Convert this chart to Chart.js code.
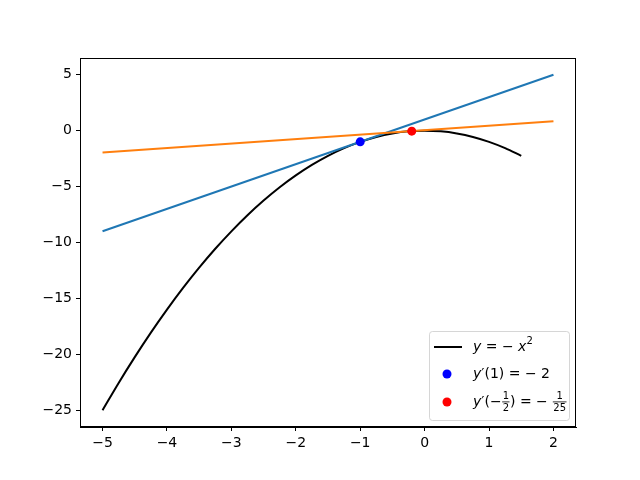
<!DOCTYPE html>
<html>
<head>
<meta charset="utf-8">
<script src="https://cdn.jsdelivr.net/npm/chart.js@4/dist/chart.umd.min.js"></script>
<style>
  body { margin: 0; background: #fff; }
  #wrap { width: 640px; height: 480px; }
</style>
</head>
<body>
<div id="wrap"><canvas id="lineChart" width="640" height="480"></canvas></div>
<script>
// curve y = -x^2
var curveX = [-5, -4.75, -4.5, -4.25, -4, -3.75, -3.5, -3.25, -3, -2.75, -2.5, -2.25, -2, -1.75, -1.5, -1.25, -1, -0.75, -0.5, -0.25, 0, 0.25, 0.5, 0.75, 1, 1.25, 1.5];
var curveY = [-25, -22.56, -20.25, -18.06, -16, -14.06, -12.25, -10.56, -9, -7.56, -6.25, -5.06, -4, -3.06, -2.25, -1.56, -1, -0.56, -0.25, -0.06, 0, -0.06, -0.25, -0.56, -1, -1.56, -2.25];
// tangent lines (end points)
var blueLineX = [-5, 2];
var blueLineY = [-9, 5];
var orangeLineX = [-5, 2];
var orangeLineY = [-1.96, 0.84];
// marked points
var bluePoint = [-1, -1];
var redPoint = [-0.2, -0.04];
var xTicks = [-5, -4, -3, -2, -1, 0, 1, 2];
var yTicks = [-25, -20, -15, -10, -5, 0, 5];

function pts(xs, ys) {
    return xs.map(function (x, i) { return { x: x, y: ys[i] }; });
}
function fmt(v) {
    return v < 0 ? '\u2212' + Math.abs(v) : String(v);
}

var FONT = "'DejaVu Sans', sans-serif";

// draws a run of text pieces; each piece: [text, italic, size, dy]
function drawRun(ctx, x, y, parts) {
    parts.forEach(function (p) {
        ctx.font = (p[1] ? 'italic ' : '') + p[2] + 'px ' + FONT;
        ctx.fillText(p[0], x, y + (p[3] || 0));
        x += ctx.measureText(p[0]).width;
    });
    return x;
}
function drawFrac(ctx, x, y, num, den) {
    ctx.font = '10px ' + FONT;
    var w = Math.max(ctx.measureText(num).width, ctx.measureText(den).width) + 2;
    ctx.textAlign = 'center';
    ctx.fillText(num, x + w / 2, y - 6);
    ctx.fillText(den, x + w / 2, y + 6);
    ctx.textAlign = 'left';
    ctx.fillRect(x + 0.5, y - 0.5, w - 1, 0.8);
    return x + w;
}

var frameAndLegend = {
    id: 'frameAndLegend',
    afterDraw: function (chart) {
        var ctx = chart.ctx, a = chart.chartArea;
        ctx.save();
        ctx.strokeStyle = '#000';
        ctx.lineWidth = 1;
        ctx.strokeRect(Math.round(a.left) + 0.5, Math.round(a.top) + 0.5, Math.round(a.right - a.left) - 1, Math.round(a.bottom - a.top) - 1);

        // legend box
        var bx = 429, by = 331, bw = 140, bh = 89, r = 3;
        ctx.globalAlpha = 0.8;
        ctx.beginPath();
        ctx.roundRect(bx + 0.5, by + 0.5, bw, bh, r);
        ctx.fillStyle = '#fff';
        ctx.fill();
        ctx.strokeStyle = '#cccccc';
        ctx.stroke();
        ctx.globalAlpha = 1;

        ctx.strokeStyle = '#000';
        ctx.lineWidth = 2;
        ctx.beginPath();
        ctx.moveTo(434, 347);
        ctx.lineTo(462, 347);
        ctx.stroke();

        ctx.fillStyle = '#0000ff';
        ctx.beginPath(); ctx.arc(447, 374, 4.5, 0, Math.PI * 2); ctx.fill();
        ctx.fillStyle = '#ff0000';
        ctx.beginPath(); ctx.arc(447, 402, 4.5, 0, Math.PI * 2); ctx.fill();

        ctx.fillStyle = '#000';
        ctx.textBaseline = 'middle';
        ctx.textAlign = 'left';
        drawRun(ctx, 473, 347, [['y', true, 14], [' = \u2212 ', false, 14], ['x', true, 14], ['2', false, 10, -6]]);
        drawRun(ctx, 473, 374, [['y', true, 14], ['\u2032(1) = \u2212 2', false, 14]]);
        var x = drawRun(ctx, 473, 402, [['y', true, 14], ['\u2032(\u2212', false, 14]]);
        x = drawFrac(ctx, x, 402, '1', '2');
        x = drawRun(ctx, x, 402, [[') = \u2212 ', false, 14]]);
        drawFrac(ctx, x, 402, '1', '25');
        ctx.restore();
    }
};

function axis(min, max, ticks, size, isX) {
    return {
        type: 'linear',
        min: min,
        max: max,
        afterBuildTicks: function (s) { s.ticks = ticks.map(function (v) { return { value: v }; }); },
        afterFit: function (s) { if (isX) { s.height = size; } else { s.width = size; } },
        grid: { drawOnChartArea: false, drawTicks: true, tickLength: 4, tickColor: '#000' },
        border: { display: true, color: '#000' },
        ticks: {
            includeBounds: false,
            color: '#000',
            padding: 4,
            font: { family: FONT, size: 14 },
            callback: function (v) { return fmt(v); }
        }
    };
}

var ctx = document.getElementById('lineChart').getContext('2d');
var myChart = new Chart(ctx, {
    type: 'scatter',
    data: {
        datasets: [{
            data: [{ x: bluePoint[0], y: bluePoint[1] }],
            backgroundColor: '#0000ff',
            borderWidth: 0,
            pointRadius: 4.5,
            order: 0
        }, {
            data: [{ x: redPoint[0], y: redPoint[1] }],
            backgroundColor: '#ff0000',
            borderWidth: 0,
            pointRadius: 4.5,
            order: 0
        }, {
            data: pts(orangeLineX, orangeLineY),
            showLine: true,
            borderColor: '#ff7f0e',
            borderWidth: 2,
            pointRadius: 0,
            order: 1
        }, {
            data: pts(blueLineX, blueLineY),
            showLine: true,
            borderColor: '#1f77b4',
            borderWidth: 2,
            pointRadius: 0,
            order: 2
        }, {
            data: pts(curveX, curveY),
            showLine: true,
            borderColor: '#000',
            borderWidth: 2,
            pointRadius: 0,
            cubicInterpolationMode: 'monotone',
            order: 3
        }]
    },
    options: {
        responsive: false,
        animation: false,
        layout: { padding: { left: 0, right: 64, top: 58, bottom: 0 } },
        plugins: { legend: { display: false }, tooltip: { enabled: false } },
        scales: {
            x: axis(-5.35, 2.35, xTicks, 53, true),
            y: axis(-26.5, 6.5, yTicks, 80, false)
        }
    },
    plugins: [frameAndLegend]
});
</script>
</body>
</html>
